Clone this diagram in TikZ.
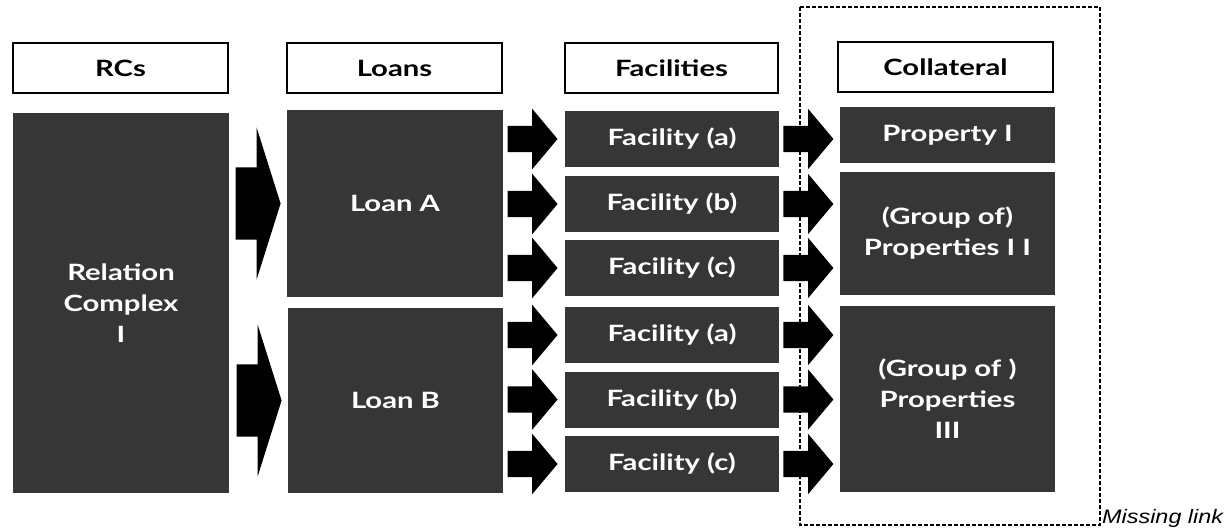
\documentclass[tikz,border=0pt]{standalone}
\usepackage{fontspec}
\setmainfont[FakeStretch=1.3]{Lato}
\newfontfamily\linkfont[FakeStretch=1.2]{Liberation Sans}
\usetikzlibrary{shapes.arrows}
\definecolor{boxgray}{RGB}{54,54,54}

\begin{document}
\begin{tikzpicture}[x=1pt, y=-1pt,
		head/.style={draw, line width=1.6, fill=white, minimum width=215, minimum height=50, inner sep=0, font=\fontsize{22.5}{26}\selectfont\bfseries},
		dark/.style={fill=boxgray, text=white, inner sep=0, align=center, font=\fontsize{22.5}{31}\selectfont\bfseries},
		fatarrow/.style={single arrow, fill=black, inner xsep=0, inner ysep=36, single arrow head extend=40, single arrow tip angle=145, minimum height=45},
		thinarrow/.style={single arrow, fill=black, inner xsep=0, inner ysep=13, single arrow head extend=17, single arrow tip angle=100, minimum height=50}]
	\useasboundingbox (0,0) rectangle (1231,530);

	% column titles
	\node [head] (hrc)    at (120.5,68) {RCs};
	\node [head] (hloans) at (394.5,68) {Loans};
	\node [head, minimum width=213] (hfac)  at (671.5,68) {Facilities};
	\node [head] (hcoll)  at (945.5,67) {Collateral};

	% relation complex and loans
	\node [dark, minimum width=216, minimum height=380] (rc) at (121,303) {Relation\\Complex\\I};
	\node [dark, minimum width=216, minimum height=187] (loanA) at (395,203.5) {Loan A};
	\node [dark, minimum width=215, minimum height=185] (loanB) at (395.5,400.5) {Loan B};
	\node [fatarrow, anchor=tip] (toA) at ([xshift=-6]loanA.west) {};
	\node [fatarrow, anchor=tip] (toB) at ([xshift=-6]loanB.west) {};

	% collateral
	\node [dark, minimum width=215, minimum height=56]  (prop1) at (947.5,135) {Property I};
	\node [dark, minimum width=215, minimum height=123] (prop2) at (947.5,233.5) {(Group of)\\Properties I I};
	\node [dark, minimum width=215, minimum height=186] (prop3) at (947.5,399) {(Group of )\\Properties\\III};

	% facilities, with an arrow in and an arrow out
	\foreach \n/\y/\t in {1/139/a, 2/204/b, 3/268/c, 4/335/a, 5/399.5/b, 6/464/c} {
		\node [dark, minimum width=214, minimum height=56] (fac\n) at (672,\y) {Facility (\t)};
		\node [thinarrow, anchor=tip]  (in\n)  at ([xshift=-7]fac\n.west) {};
		\node [thinarrow, anchor=tail] (out\n) at ([xshift=4]fac\n.east) {};
	}

	% the link that is missing
	\draw [line width=1.6, dash pattern=on 4 off 2] (800,7) rectangle (1100,525);
	\node [anchor=base west, inner sep=0, font=\linkfont\itshape\fontsize{19.5}{22}\selectfont] (missing) at (1102,523) {Missing link};
\end{tikzpicture}
\end{document}
